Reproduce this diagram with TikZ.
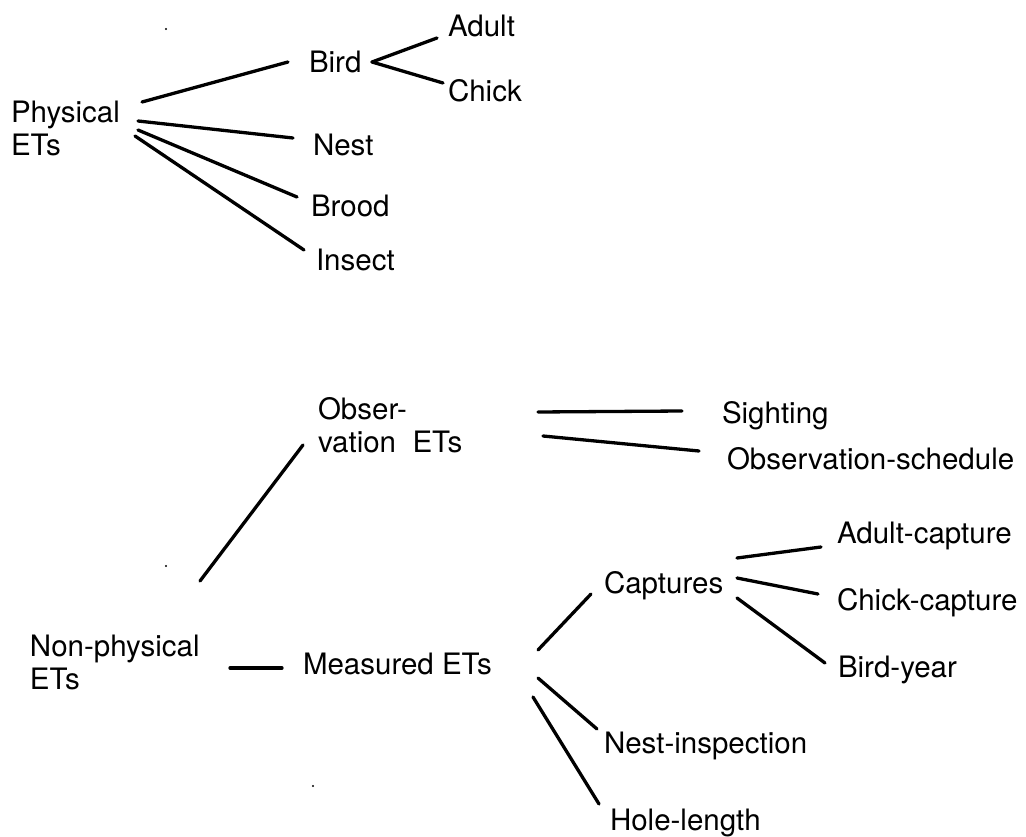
\documentclass[tikz,border=0pt]{standalone}
\usepackage{fontspec}
\setmainfont{TeX Gyre Heros}
\begin{document}
\begin{tikzpicture}[x=1pt,y=-1pt,
  lbl/.style={anchor=base west,inner sep=0pt,outer sep=0pt,align=left,
    font=\fontsize{29.5}{33}\selectfont},
  conn/.style={line width=3.3pt,line cap=round},
  speck/.style={fill=black,draw=none}]
\useasboundingbox (0,0) rectangle (1026,837);
% labels (multi-line nodes: base anchor is on the last line)
\node[lbl] (phys) at (11,156) {Physical\\ETs};
\node[lbl] (bird) at (309,73) {Bird};
\node[lbl] (adult) at (448,37) {Adult};
\node[lbl] (chick) at (448,102) {Chick};
\node[lbl] (nest) at (313,156) {Nest};
\node[lbl] (brood) at (311,217) {Brood};
\node[lbl] (insect) at (316,271) {Insect};
\node[lbl] (obs) at (318,452) {Obser-\\vation\ \ ETs};
\node[lbl] (sighting) at (722,423) {Sighting};
\node[lbl] (obssched) at (727,469) {Observation-schedule};
\node[lbl] (nonphys) at (30,689) {Non-physical\\ETs};
\node[lbl] (meas) at (303,674) {Measured ETs};
\node[lbl] (capt) at (604,593) {Captures};
\node[lbl] (adcap) at (837,543) {Adult-capture};
\node[lbl] (chcap) at (837,610) {Chick-capture};
\node[lbl] (birdyear) at (838,677) {Bird-year};
\node[lbl] (nestinsp) at (604,753) {Nest-inspection};
\node[lbl] (hole) at (610,830) {Hole-length};
% connector end points
\coordinate (physB) at (142,102); \coordinate (birdW) at (288,62);
\coordinate (birdE1) at (372,62); \coordinate (adultW) at (437,38);
\coordinate (birdE2) at (372,62); \coordinate (chickW) at (443,83);
\coordinate (physN) at (138,121); \coordinate (nestW) at (293,138);
\coordinate (physR) at (138,130); \coordinate (broodW) at (297,197);
\coordinate (physI) at (135,136); \coordinate (insectW) at (304,250);
\coordinate (nonphysO) at (200,581); \coordinate (obsW) at (303,445);
\coordinate (nonphysM) at (230,668); \coordinate (measW) at (282,668);
\coordinate (obsS) at (538,412); \coordinate (sightingW) at (682,411);
\coordinate (obsO) at (543,436); \coordinate (obsschedW) at (699,451);
\coordinate (measC) at (538,650); \coordinate (captW) at (591,594);
\coordinate (captA) at (737,558); \coordinate (adcapW) at (821,547);
\coordinate (captC) at (737,578); \coordinate (chcapW) at (818,594);
\coordinate (captB) at (737,598); \coordinate (birdyearW) at (825,663);
\coordinate (measN) at (538,678); \coordinate (nestinspW) at (597,729);
\coordinate (measH) at (533,697); \coordinate (holeW) at (599,804);
% connectors
\draw[conn] (physB) -- (birdW);
\draw[conn] (birdE1) -- (adultW);
\draw[conn] (birdE2) -- (chickW);
\draw[conn] (physN) -- (nestW);
\draw[conn] (physR) -- (broodW);
\draw[conn] (physI) -- (insectW);
\draw[conn] (nonphysO) -- (obsW);
\draw[conn] (nonphysM) -- (measW);
\draw[conn] (obsS) -- (sightingW);
\draw[conn] (obsO) -- (obsschedW);
\draw[conn] (measC) -- (captW);
\draw[conn] (captA) -- (adcapW);
\draw[conn] (captC) -- (chcapW);
\draw[conn] (captB) -- (birdyearW);
\draw[conn] (measN) -- (nestinspW);
\draw[conn] (measH) -- (holeW);
% scan specks
\fill[speck] (166,29) circle (1.2);
\fill[speck] (166,566) circle (1.2);
\fill[speck] (313,786) circle (1.2);
\end{tikzpicture}
\end{document}
